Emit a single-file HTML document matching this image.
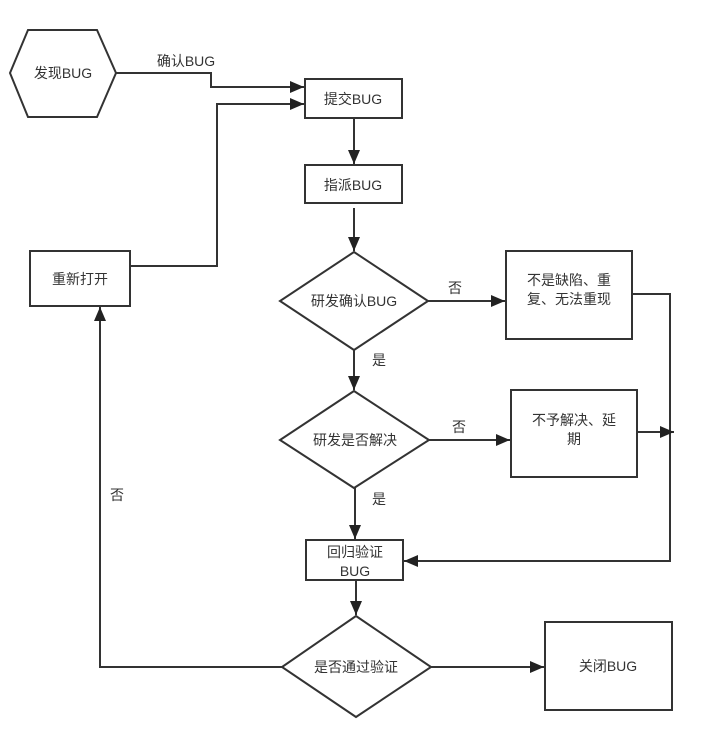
<!DOCTYPE html>
<html><head><meta charset="utf-8"><style>
html,body{margin:0;padding:0;background:#fff;}
svg{display:block;}
text{font-family:"Liberation Sans","Noto Sans CJK SC",sans-serif;font-size:14px;fill:#333;}
</style></head><body>
<svg width="710" height="738" viewBox="0 0 710 738" xmlns="http://www.w3.org/2000/svg">
<defs><marker id="a" markerWidth="10" markerHeight="10" refX="9" refY="5" orient="auto" markerUnits="userSpaceOnUse"><path d="M0,0 L10,5 L0,10 z" fill="#222"/></marker>
<marker id="b" markerWidth="14" markerHeight="12" refX="14" refY="6" orient="auto" markerUnits="userSpaceOnUse"><path d="M0,0 L14,6 L0,12 z" fill="#222"/></marker></defs>
<g fill="none" stroke="#333" stroke-width="2">
<polygon points="10,73 28,30 97,30 116,73 97,117 28,117" fill="#fff"/>
<rect x="305" y="79" width="97" height="39"/>
<rect x="305" y="165" width="97" height="38"/>
<rect x="30" y="251" width="100" height="55"/>
<polygon points="354,252 428,301 354,350 280,301"/>
<rect x="506" y="251" width="126" height="88"/>
<polygon points="354,391 429,440 354,488 280,440"/>
<rect x="511" y="390" width="126" height="87"/>
<rect x="306" y="540" width="97" height="40"/>
<polygon points="356,616 431,667 356,717 282,667"/>
<rect x="545" y="622" width="127" height="88"/>
<g stroke-width="2">
<polyline points="116,73 211,73 211,87 304,87" marker-end="url(#b)"/>
<polyline points="130,266 217,266 217,104 304,104" marker-end="url(#b)"/>
<line x1="354" y1="118" x2="354" y2="164" marker-end="url(#b)"/>
<line x1="354" y1="208" x2="354" y2="251" marker-end="url(#b)"/>
<line x1="428" y1="301" x2="505" y2="301" marker-end="url(#b)"/>
<line x1="354" y1="350" x2="354" y2="390" marker-end="url(#b)"/>
<line x1="429" y1="440" x2="510" y2="440" marker-end="url(#b)"/>
<line x1="355" y1="488" x2="355" y2="539" marker-end="url(#b)"/>
<polyline points="632,294 670,294 670,561 404,561" marker-end="url(#b)"/>
<line x1="637" y1="432" x2="674" y2="432" marker-end="url(#b)"/>
<line x1="356" y1="580" x2="356" y2="615" marker-end="url(#b)"/>
<line x1="431" y1="667" x2="544" y2="667" marker-end="url(#b)"/>
<polyline points="282,667 100,667 100,307" marker-end="url(#b)"/>
</g></g>
<text x="63" y="78" text-anchor="middle">发现BUG</text>
<text x="186" y="66" text-anchor="middle">确认BUG</text>
<text x="353" y="104" text-anchor="middle">提交BUG</text>
<text x="353" y="190" text-anchor="middle">指派BUG</text>
<text x="80" y="284" text-anchor="middle">重新打开</text>
<text x="354" y="306" text-anchor="middle">研发确认BUG</text>
<text x="455" y="293" text-anchor="middle">否</text>
<text x="569" y="285" text-anchor="middle">不是缺陷、重</text>
<text x="569" y="304" text-anchor="middle">复、无法重现</text>
<text x="379" y="365" text-anchor="middle">是</text>
<text x="355" y="445" text-anchor="middle">研发是否解决</text>
<text x="459" y="432" text-anchor="middle">否</text>
<text x="574" y="425" text-anchor="middle">不予解决、延</text>
<text x="574" y="444" text-anchor="middle">期</text>
<text x="379" y="504" text-anchor="middle">是</text>
<text x="355" y="557" text-anchor="middle">回归验证</text>
<text x="355" y="576" text-anchor="middle">BUG</text>
<text x="117" y="500" text-anchor="middle">否</text>
<text x="356" y="672" text-anchor="middle">是否通过验证</text>
<text x="608" y="671" text-anchor="middle">关闭BUG</text>
</svg>
</body></html>
